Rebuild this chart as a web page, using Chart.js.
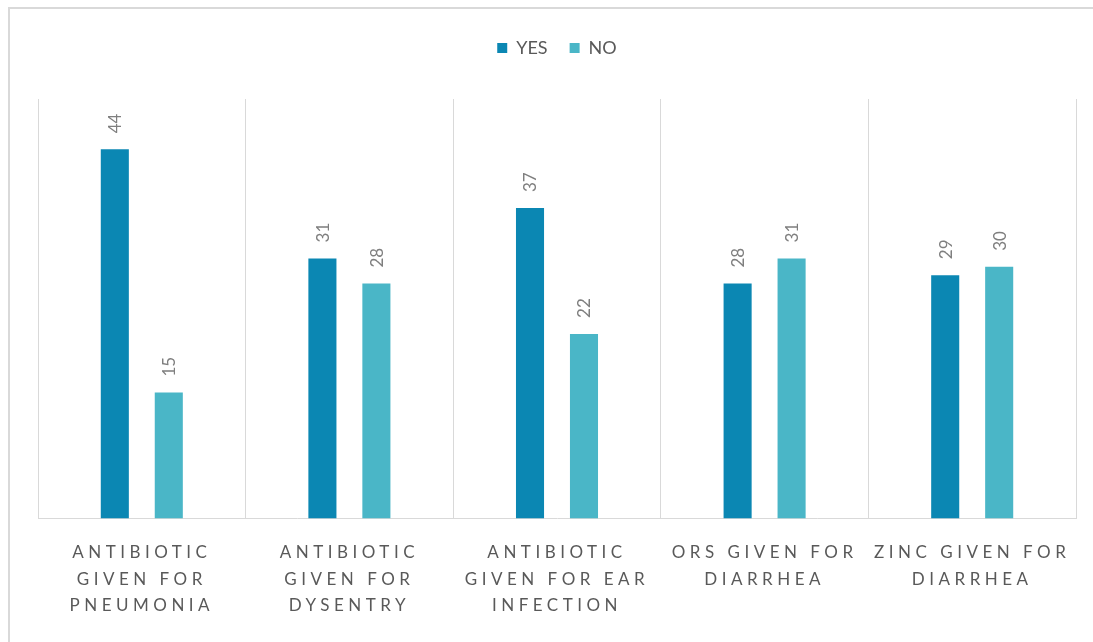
<!DOCTYPE html>
<html>
<head>
<meta charset="utf-8">
<script src="https://cdn.jsdelivr.net/npm/chart.js@4/dist/chart.umd.min.js"></script>
<style>
  html, body { margin: 0; padding: 0; background: #ffffff; }
  #wrap { position: relative; width: 1093px; height: 642px; overflow: hidden; }
  #frame { position: absolute; left: 8px; top: 7px; width: 1200px; height: 800px;
           border-top: 2px solid #d9d9d9; border-left: 2px solid #d9d9d9; }
  canvas { position: absolute; left: 0; top: 0; }
</style>
</head>
<body>
<div id="wrap">
  <div id="frame"></div>
  <canvas id="chart" width="1093" height="642"></canvas>
</div>
<script>
// Categories (each label split over lines as shown under the axis)
const categories = [
  ["ANTIBIOTIC", "GIVEN FOR", "PNEUMONIA"],
  ["ANTIBIOTIC", "GIVEN FOR", "DYSENTRY"],
  ["ANTIBIOTIC", "GIVEN FOR EAR", "INFECTION"],
  ["ORS GIVEN FOR", "DIARRHEA"],
  ["ZINC GIVEN FOR", "DIARRHEA"]
];
const yesValues = [44, 31, 37, 28, 29];
const noValues  = [15, 28, 22, 31, 30];
const seriesNames = ["YES", "NO"];

const FONT = "Lato, 'Open Sans', sans-serif";

// Spaced-out category labels on the x axis
const spacedTicks = {
  id: 'spacedTicks',
  beforeDraw(chart) {
    const xs = chart.scales.x;
    if (xs && !xs._spacedPatched) {
      const orig = xs.drawLabels.bind(xs);
      xs.drawLabels = function (area) {
        const ctx = chart.ctx;
        ctx.save();
        ctx.letterSpacing = '4.5px';
        orig(area);
        ctx.restore();
      };
      xs._spacedPatched = true;
    }
  }
};

// Extra empty space between the legend and the plot
const legendGap = {
  id: 'legendGap',
  beforeLayout(chart) {
    const lg = chart.legend;
    if (lg && !lg._gapPatched) {
      const origFit = lg.fit.bind(lg);
      lg.fit = function () {
        origFit();
        this.height += 32;
      };
      lg._gapPatched = true;
    }
  }
};

// Vertical value labels above each bar
const barValues = {
  id: 'barValues',
  afterDatasetsDraw(chart) {
    const ctx = chart.ctx;
    ctx.save();
    ctx.font = "17px " + FONT;
    ctx.fillStyle = '#7f7f7f';
    ctx.textAlign = 'left';
    ctx.textBaseline = 'middle';
    chart.data.datasets.forEach((ds, di) => {
      const meta = chart.getDatasetMeta(di);
      meta.data.forEach((bar, i) => {
        ctx.save();
        ctx.translate(bar.x, bar.y - 16);
        ctx.rotate(-Math.PI / 2);
        ctx.fillText(String(ds.data[i]), 0, 1);
        ctx.restore();
      });
    });
    ctx.restore();
  }
};

new Chart(document.getElementById('chart'), {
  type: 'bar',
  data: {
    labels: categories,
    datasets: [
      { label: seriesNames[0], data: yesValues, backgroundColor: '#0b87b3' },
      { label: seriesNames[1], data: noValues,  backgroundColor: '#4ab6c7' }
    ]
  },
  options: {
    responsive: false,
    animation: false,
    devicePixelRatio: 1,
    categoryPercentage: 0.52,
    barPercentage: 0.52,
    layout: { padding: { top: 17, right: 17, bottom: 2, left: 38 } },
    plugins: {
      tooltip: { enabled: false },
      legend: {
        position: 'top',
        labels: {
          boxWidth: 10,
          boxHeight: 10,
          padding: 22,
          color: '#595959',
          font: { family: FONT, size: 18 }
        }
      }
    },
    scales: {
      x: {
        grid: { display: true, color: '#d9d9d9', lineWidth: 1, drawTicks: false, offset: true },
        border: { display: true, color: '#d9d9d9', width: 1 },
        ticks: {
          color: '#595959',
          font: { family: FONT, size: 17, lineHeight: 1.56 },
          padding: 21,
          maxRotation: 0,
          minRotation: 0,
          autoSkip: false
        }
      },
      y: {
        display: false,
        min: 0,
        max: 50
      }
    }
  },
  plugins: [spacedTicks, legendGap, barValues]
});
</script>
</body>
</html>
